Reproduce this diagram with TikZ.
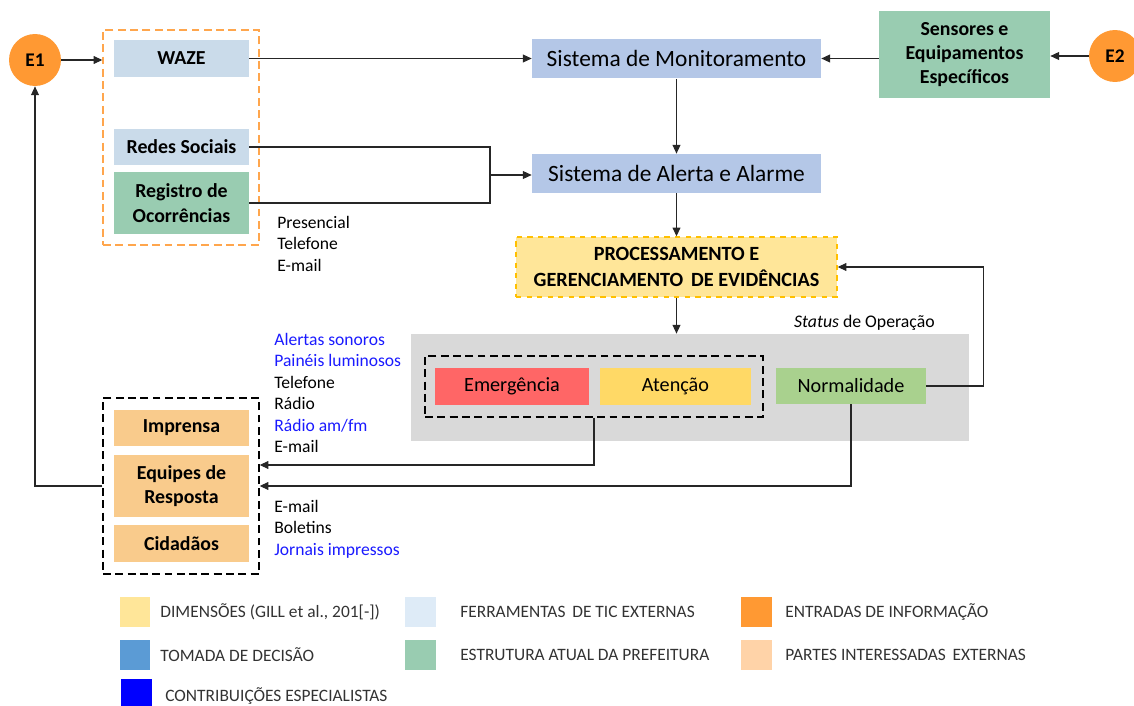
\documentclass[tikz,border=0pt]{standalone}
\usepackage{fontspec}
\setmainfont{Carlito}
\usetikzlibrary{arrows.meta}

\definecolor{entrada}{HTML}{FF9933}
\definecolor{ticbox}{HTML}{CADBEA}
\definecolor{ticleg}{HTML}{DEEBF7}
\definecolor{prefeitura}{HTML}{99CCB1}
\definecolor{sistema}{HTML}{B4C7E7}
\definecolor{dimensao}{HTML}{FFE699}
\definecolor{dimborda}{HTML}{FFC000}
\definecolor{laranjaborda}{HTML}{FFA64D}
\definecolor{cinzastatus}{HTML}{D9D9D9}
\definecolor{emergencia}{HTML}{FF6666}
\definecolor{atencao}{HTML}{FFD966}
\definecolor{normalidade}{HTML}{A9D18E}
\definecolor{partes}{HTML}{F9CB8C}
\definecolor{partesleg}{HTML}{FFD3A8}
\definecolor{decisao}{HTML}{5B9BD5}
\definecolor{azulesp}{HTML}{1A1AFF}

\begin{document}
\begin{tikzpicture}[x=0.02cm,y=-0.02cm,
  >={Triangle[length=5pt,width=4.5pt]},
  seta/.style={->,black!85,line width=0.6pt},
  liga/.style={black!85,line width=0.6pt},
  caixa/.style={rectangle,inner sep=0pt,align=center,minimum width=2.7cm,
    font=\fontsize{11.3}{14}\selectfont\bfseries},
  sist/.style={rectangle,fill=sistema,inner sep=0pt,minimum width=5.78cm,
    minimum height=0.8cm,font=\fontsize{13.3}{16}\selectfont},
  estado/.style={rectangle,inner sep=0pt,minimum height=0.74cm,
    font=\fontsize{11.5}{14}\selectfont},
  entr/.style={circle,fill=entrada,inner sep=0pt,minimum size=1.04cm,
    font=\fontsize{11}{13}\selectfont\bfseries},
  grupo/.style={rectangle,draw,dashed,line width=0.8pt,
    dash pattern=on 4.5pt off 2.5pt,inner sep=0pt},
  lista/.style={anchor=north west,inner sep=0pt,align=left,
    font=\fontsize{10}{12.2}\selectfont},
  legq/.style={rectangle,inner sep=0pt,minimum size=0.62cm},
  legt/.style={anchor=west,inner sep=0pt,text=black!80,
    font=\fontsize{9.9}{12}\selectfont}]
  \useasboundingbox (0,0) rectangle (1134,706);

  % entradas de informacao
  \node[entr] (e1) at (35,60) {E1};
  \node[entr] (e2) at (1115,56) {E2};

  % ferramentas externas e registro da prefeitura
  \node[grupo,draw=laranjaborda,minimum width=3.12cm,minimum height=4.3cm] (fontes) at (181,137.5) {};
  \node[caixa,fill=ticbox,minimum height=0.74cm] (waze) at (181.5,58.5) {WAZE};
  \node[caixa,fill=ticbox,minimum height=0.72cm] (redes) at (181.5,147) {Redes Sociais};
  \node[caixa,fill=prefeitura,minimum height=1.24cm] (registro) at (181.5,203) {Registro de\\Ocorrências};
  \node[lista] (canaisreg) at (277,216) {Presencial\\Telefone\\E-mail};

  % sistemas
  \node[sist] (monit) at (676.5,58.5) {Sistema de Monitoramento};
  \node[sist,minimum height=0.78cm] (alerta) at (676.5,173.5) {Sistema de Alerta e Alarme};
  \node[caixa,fill=prefeitura,minimum width=3.42cm,minimum height=1.74cm,
    font=\fontsize{11.3}{13.9}\selectfont\bfseries] (sensores) at (964.5,54.5) {Sensores e\\Equipamentos\\Específicos};

  % processamento
  \node[caixa,fill=dimensao,draw=dimborda,dashed,line width=0.8pt,
    minimum width=6.42cm,minimum height=1.2cm,
    font=\fontsize{11.5}{14.5}\selectfont\bfseries] (proc) at (676.5,267) {PROCESSAMENTO E\\GERENCIAMENTO\, DE EVIDÊNCIAS};

  % status de operacao
  \node[rectangle,fill=cinzastatus,inner sep=0pt,minimum width=11.16cm,minimum height=2.14cm] (status) at (690,387.5) {};
  \node[anchor=east,inner sep=0pt,font=\fontsize{10.1}{12}\selectfont] (statuslbl) at (935,323) {\textit{Status} de Operação};
  \node[grupo,minimum width=6.76cm,minimum height=1.22cm] (alarmes) at (594,386.5) {};
  \node[estado,fill=emergencia,minimum width=3.08cm] (emerg) at (512,386.5) {Emergência};
  \node[estado,fill=atencao,minimum width=3.02cm] (atenc) at (675.5,386.5) {Atenção};
  \node[estado,fill=normalidade,minimum width=3cm,minimum height=0.72cm] (normal) at (851,386) {Normalidade};

  % partes interessadas
  \node[grupo,minimum width=3.12cm,minimum height=3.52cm] (publico) at (181,486) {};
  \node[caixa,fill=partes,minimum height=0.72cm] (imprensa) at (181.5,428) {Imprensa};
  \node[caixa,fill=partes,minimum height=1.24cm] (equipes) at (181.5,486) {Equipes de\\Resposta};
  \node[caixa,fill=partes,minimum height=0.74cm] (cidadaos) at (181.5,543.5) {Cidadãos};
  \node[lista] (canaisalerta) at (274,333) {\textcolor{azulesp}{Alertas sonoros}\\\textcolor{azulesp}{Painéis luminosos}\\Telefone\\Rádio\\\textcolor{azulesp}{Rádio am/fm}\\E-mail};
  \node[lista] (canaisnormal) at (274,500) {E-mail\\Boletins\\\textcolor{azulesp}{Jornais impressos}};

  % conexoes
  \draw[seta] (e1.east) -- (fontes.west |- e1.east);
  \draw[seta] (waze.east) -- (monit.west |- waze.east);
  \coordinate (junta) at (490,175);
  \draw[liga] (redes.east) -| (junta);
  \draw[liga] (registro.east) -| (junta);
  \draw[seta] (junta) -- (alerta.west |- junta);
  \draw[seta] (sensores.west |- monit.east) -- (monit.east);
  \draw[seta] (e2.west) -- (sensores.east |- e2.west);
  \draw[seta] (monit.south) -- (alerta.north);
  \draw[seta] (alerta.south) -- (proc.north);
  \draw[seta] (proc.south) -- (proc.south |- status.north);
  \draw[seta] (normal.east) -- ++(57,0) |- (proc.east);
  \draw[seta] (alarmes.south) |- ([yshift=0.42cm]publico.east);
  \draw[seta] (normal.south) |- (publico.east);
  \draw[seta] (publico.west) -| (e1.south);

  % legenda
  \node[legq,fill=dimensao] (q1) at (135,612) {};
  \node[legt] (t1) at (160,612) {DIMENSÕES (GILL et al., 201[-])};
  \node[legq,fill=ticleg] (q2) at (420.5,612) {};
  \node[legt] (t2) at (460,612) {FERRAMENTAS\, DE TIC EXTERNAS};
  \node[legq,fill=entrada] (q3) at (756.5,612) {};
  \node[legt] (t3) at (785,612) {ENTRADAS DE INFORMAÇÃO};
  \node[legq,fill=decisao] (q4) at (135,655) {};
  \node[legt] (t4) at (160,655) {TOMADA DE DECISÃO};
  \node[legq,fill=prefeitura] (q5) at (420.5,655) {};
  \node[legt] (t5) at (460,655) {ESTRUTURA ATUAL DA PREFEITURA};
  \node[legq,fill=partesleg] (q6) at (756.5,655) {};
  \node[legt] (t6) at (785,655) {PARTES INTERESSADAS\, EXTERNAS};
  \node[legq,fill=blue] (q7) at (136.5,694) {};
  \node[legt] (t7) at (165,696) {CONTRIBUIÇÕES ESPECIALISTAS};
\end{tikzpicture}
\end{document}
